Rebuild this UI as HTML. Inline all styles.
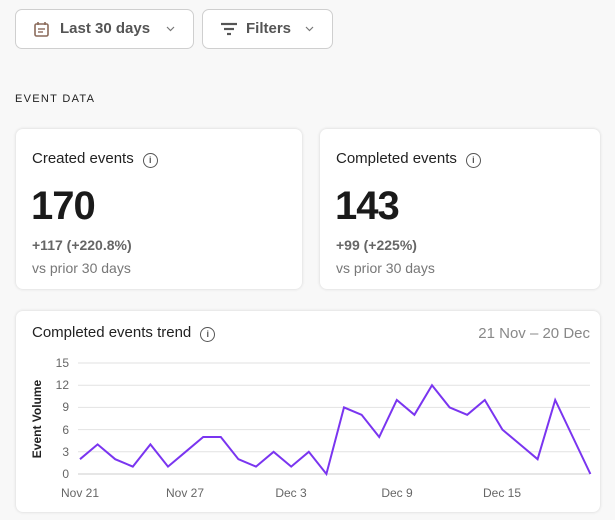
<!DOCTYPE html>
<html><head><meta charset="utf-8"><style>
body{margin:0;width:615px;height:520px;background:#f8f8f8;font-family:"Liberation Sans",sans-serif;position:relative;overflow:hidden}
.btn{position:absolute;top:9px;height:40px;border:1px solid #cfcfcf;border-radius:7px;background:#fff;box-sizing:border-box;font-size:15px;font-weight:bold;color:#555;line-height:38px}
.card{position:absolute;background:#fff;border-radius:7px;box-shadow:0 0 3px rgba(0,0,0,.15)}
.t{position:absolute;white-space:nowrap}
.info{display:inline-block;width:13px;height:13px;border:1.3px solid #555;border-radius:50%;font-size:9px;line-height:13px;text-align:center;color:#555;font-weight:bold;vertical-align:0px;margin-left:9px}
</style></head><body>
<div class="btn" style="left:15px;width:179px"><svg style="position:absolute;left:18px;top:11px" width="15" height="16"><rect x="1" y="3" width="13" height="12" rx="1.5" fill="none" stroke="#8a6a5a" stroke-width="1.6"/><line x1="4" y1="1" x2="4" y2="4" stroke="#8a6a5a" stroke-width="1.6"/><line x1="11" y1="1" x2="11" y2="4" stroke="#8a6a5a" stroke-width="1.6"/><line x1="4" y1="8" x2="11" y2="8" stroke="#8a6a5a" stroke-width="1.4"/><line x1="4" y1="11" x2="9" y2="11" stroke="#8a6a5a" stroke-width="1.4"/></svg><span style="position:absolute;left:44px">Last 30 days</span><svg style="position:absolute;left:150px;top:16px" width="9" height="6"><polyline points="1,1 4.5,4.5 8,1" fill="none" stroke="#777" stroke-width="1.2"/></svg></div>
<div class="btn" style="left:202px;width:131px"><svg style="position:absolute;left:17px;top:12px" width="18" height="14"><line x1="1" y1="2" x2="17" y2="2" stroke="#555" stroke-width="2.2"/><line x1="4" y1="7" x2="14" y2="7" stroke="#555" stroke-width="2.2"/><line x1="7" y1="12" x2="11" y2="12" stroke="#555" stroke-width="2.2"/></svg><span style="position:absolute;left:43px">Filters</span><svg style="position:absolute;left:102px;top:16px" width="9" height="6"><polyline points="1,1 4.5,4.5 8,1" fill="none" stroke="#777" stroke-width="1.2"/></svg></div>
<div class="t" style="left:15px;top:93px;font-size:11px;letter-spacing:1.3px;color:#222">EVENT DATA</div>

<div class="card" style="left:16px;top:129px;width:286px;height:160px">
<div class="t" style="left:16px;top:21px;font-size:15px;color:#222">Created events<span class="info">i</span></div>
<div class="t" style="left:15px;top:55px;font-size:40px;font-weight:bold;color:#1a1a1a;letter-spacing:-1px">170</div>
<div class="t" style="left:16px;top:108px;font-size:14px;font-weight:bold;color:#666">+117 (+220.8%)</div>
<div class="t" style="left:16px;top:131px;font-size:14px;color:#777">vs prior 30 days</div>
</div>
<div class="card" style="left:320px;top:129px;width:280px;height:160px">
<div class="t" style="left:16px;top:21px;font-size:15px;color:#222">Completed events<span class="info">i</span></div>
<div class="t" style="left:15px;top:55px;font-size:40px;font-weight:bold;color:#1a1a1a;letter-spacing:-1px">143</div>
<div class="t" style="left:16px;top:108px;font-size:14px;font-weight:bold;color:#666">+99 (+225%)</div>
<div class="t" style="left:16px;top:131px;font-size:14px;color:#777">vs prior 30 days</div>
</div>

<div class="card" style="left:16px;top:311px;width:584px;height:201px">
<div class="t" style="left:16px;top:13px;font-size:15px;color:#222">Completed events trend<span class="info">i</span></div>
<div class="t" style="right:10px;top:14px;font-size:15px;color:#888">21 Nov – 20 Dec</div>
</div>
<svg style="position:absolute;left:0;top:0" width="615" height="520" font-family="Liberation Sans, sans-serif">
<g stroke="#e2e2e2" stroke-width="1">
<line x1="78" x2="590" y1="363" y2="363"/><line x1="78" x2="590" y1="385.2" y2="385.2"/><line x1="78" x2="590" y1="407.4" y2="407.4"/><line x1="78" x2="590" y1="429.6" y2="429.6"/><line x1="78" x2="590" y1="451.8" y2="451.8"/><line x1="78" x2="590" y1="474" y2="474" stroke="#ccc"/>
</g>
<g font-size="12" fill="#666" text-anchor="end">
<text x="69" y="367">15</text><text x="69" y="389">12</text><text x="69" y="411">9</text><text x="69" y="434">6</text><text x="69" y="456">3</text><text x="69" y="478">0</text>
</g>
<text transform="translate(41,419) rotate(-90)" text-anchor="middle" font-size="12" font-weight="bold" fill="#222">Event Volume</text>
<g font-size="12" fill="#666" text-anchor="middle">
<text x="80" y="497">Nov 21</text><text x="185" y="497">Nov 27</text><text x="291" y="497">Dec 3</text><text x="397" y="497">Dec 9</text><text x="502" y="497">Dec 15</text>
</g>
<polyline fill="none" stroke="#7a35f0" stroke-width="2" stroke-linejoin="miter" points="80,459.2 97.6,444.4 115.2,459.2 132.8,466.6 150.4,444.4 168,466.6 185.6,451.8 203.2,437 220.8,437 238.4,459.2 256,466.6 273.6,451.8 291.2,466.6 308.8,451.8 326.4,474 344,407.4 361.6,414.8 379.2,437 396.8,400 414.4,414.8 432,385.2 449.6,407.4 467.2,414.8 484.8,400 502.4,429.6 520,444.4 537.6,459.2 555.2,400 572.8,437 590.4,474"/>
</svg>
</body></html>
